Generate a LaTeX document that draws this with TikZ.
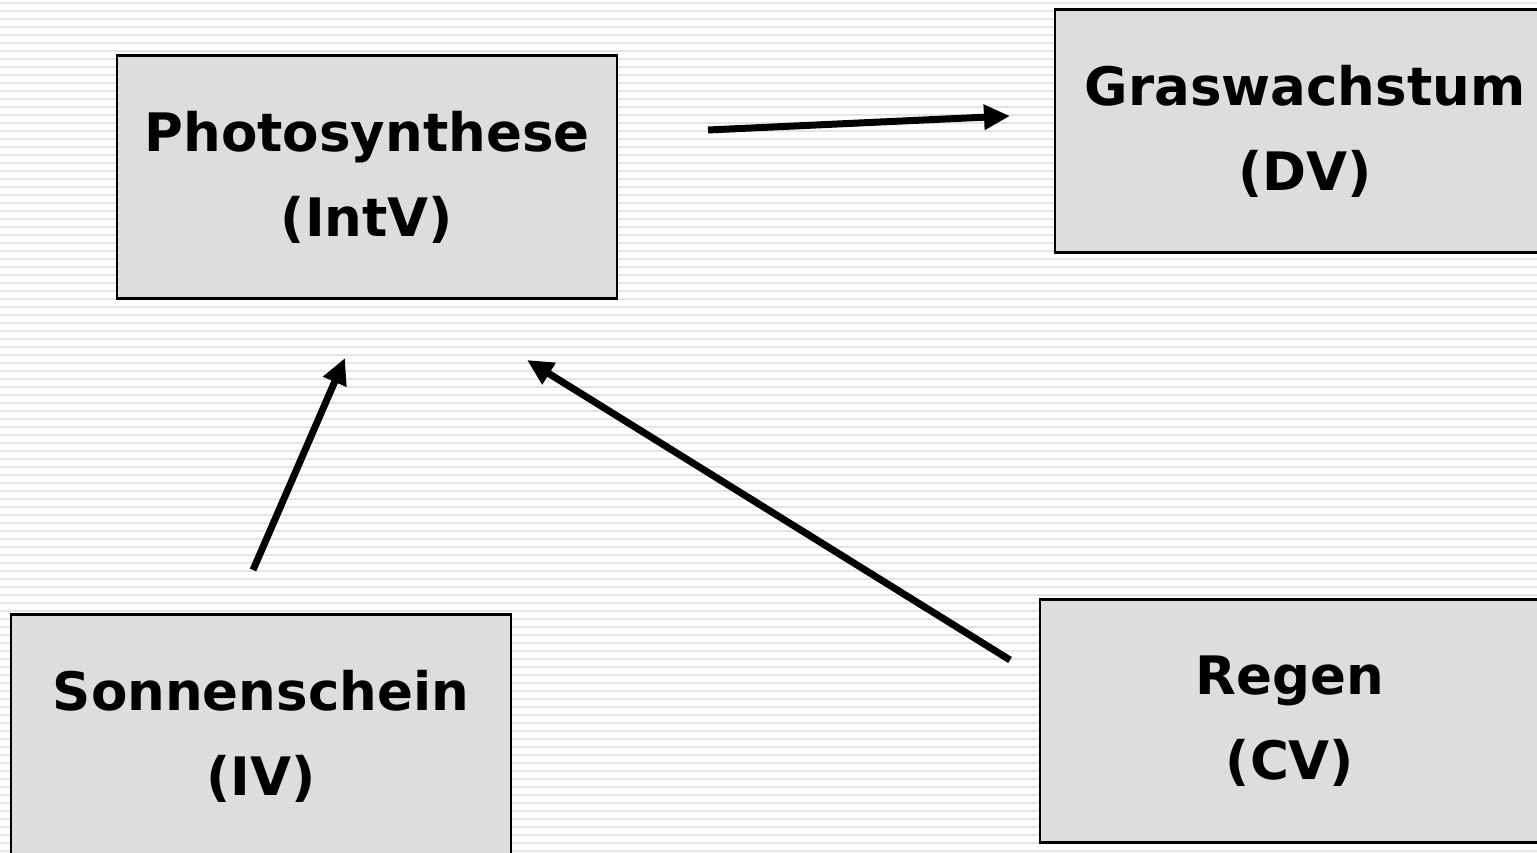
\documentclass[tikz,border=0pt]{standalone}
\usepackage{fontspec}
\setmainfont{DejaVu Sans}
\usepackage{tikz}
\usetikzlibrary{
    arrows.meta
}
\definecolor{boxGray}{RGB}{221, 221, 221}
\definecolor{stripeGray}{RGB}{228, 228, 228}

\begin{document}
\begin{tikzpicture}[x=1pt, y=-1pt,
        varbox/.style={draw=black, line width=2.5pt, fill=boxGray,
            minimum width=500pt, minimum height=243pt, inner sep=0pt,
            align=center, font=\fontsize{53}{85}\selectfont\bfseries},
        effect/.style={-{Triangle[length=26pt, width=24pt]}, line width=7pt}]
            \clip (0,0) rectangle (1537,853);
            \fill[white] (0,0) rectangle (1537,853);
            % striped background
            \foreach \y in {3,11,...,853}
                \draw[stripeGray, line width=2.5pt] (0,\y)--(1537,\y);
            \node[varbox] (photo) at (367,177) {Photosynthese\\(IntV)};
            \node[varbox] (gras) at (1305,131) {Graswachstum\\(DV)};
            \node[varbox] (sonne) at (261,736) {Sonnenschein\\(IV)};
            \node[varbox] (regen) at (1290,721) {Regen\\(CV)};
            % arrow ends
            \coordinate (photoOut) at (708,130);
            \coordinate (grasIn) at (1010,116);
            \coordinate (sonneOut) at (253,570);
            \coordinate (photoInA) at (345,358);
            \coordinate (regenOut) at (1010,660);
            \coordinate (photoInB) at (527,360);
            \draw[effect] (photoOut)--(grasIn);
            \draw[effect] (sonneOut)--(photoInA);
            \draw[effect] (regenOut)--(photoInB);
        \end{tikzpicture}
\end{document}
